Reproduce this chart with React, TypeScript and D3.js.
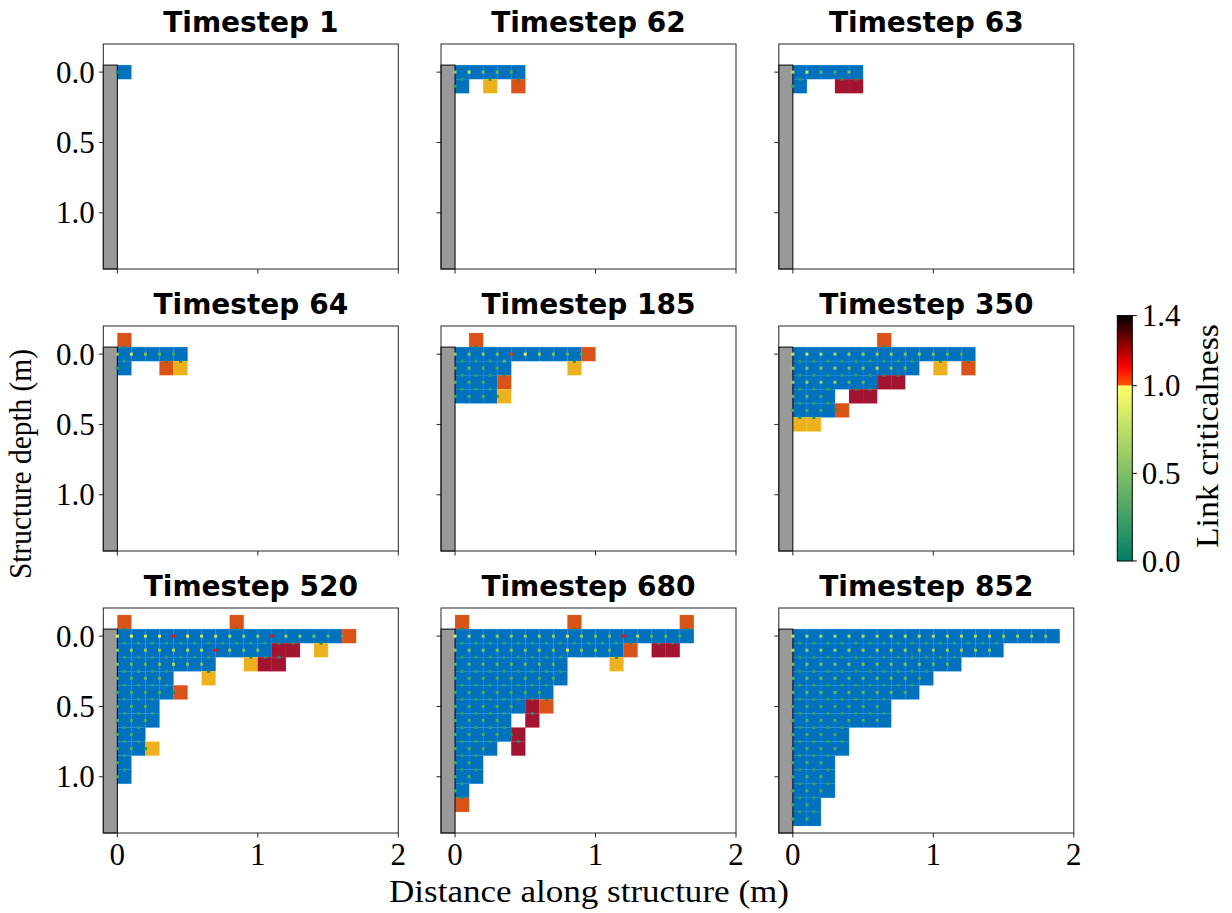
import React from 'react';
import * as d3 from 'd3';

// ---------------- data ----------------
const timesteps = [1, 62, 63, 64, 185, 350, 520, 680, 852];

// cell rows start at row j = -1 (index 0). b = intact (blue), y/o/r = criticalness classes
// h rows: link dot at left edge of cell (x = 0.1 i, y = 0.1 j); v rows: link dot at top edge
const cells1 = ['', 'b'];
const h1 = ['', '1'];
const v1 = ['', ''];

const cells62 = ['', 'bbbbb', 'b.y.o'];
const h62 = ['', '68543', '2'];
const v62 = ['', '', '2.1.1'];

const cells63 = ['', 'bbbbb', 'b..rr'];
const h63 = ['', '78435', '2'];
const v63 = ['', '', '2..11'];

const cells64 = ['o', 'bbbbb', 'b..oy'];
const h64 = ['', '68543', '2'];
const v64 = ['', '1', '2..11'];

const cells185 = ['.o', 'bbbbbbbbbo', 'bbbb....y', 'bbbo', 'bbby'];
const h185 = ['', '6565A96543', '4433', '433', '3331'];
const v185 = ['', '.1', '2224....1', '2221', '222'];

const cells350 = ['......o', 'bbbbbbbbbbbbb', 'bbbbbbbbb.y.o', 'bbbbbbrr', 'bbb.rr', 'bbbo', 'yy'];
const h350 = ['', '8877666656543', '655655754', '666644', '443', '3331', ''];
const v350 = ['', '......1', '222222222.1.1', '22222211', '222.11', '222', '11'];

const cells520 = ['o.......o', 'bbbbbbbbbbbbbbbbo', 'bbbbbbbbbbbrr.y', 'bbbbbbb..yrr', 'bbbb..y', 'bbbbo', 'bbb', 'bbb', 'bb', 'bby', 'b', 'b'];
const h520 = ['', '9989B988766B66543', '6666777B655', '5445755', '4344', '33331', '333', '333', '33', '331', '3', '3'];
const v520 = ['', '1.......1', '2222222222211.1', '2222222..111', '2222..1', '2222', '222', '222', '22', '22', '2', '2'];

const cells680 = ['o.......o.......o', 'bbbbbbbbbbbbbbbbb', 'bbbbbbbbbbbbo.rr', 'bbbbbbbb...y', 'bbbbbbbb', 'bbbbbbb', 'bbbbbro', 'bbbb.r', 'bbbbr', 'bbb.r', 'bb', 'bb', 'b', 'o'];
const h680 = ['', '976666668655B7443', '655555559554', '44444444', '33333333', '3333333', '33333', '3333', '33331', '333', '33', '33', '3', ''];
const v680 = ['', '1.......1.......1', '2222222222221.11', '22222222...1', '22222222', '2222222', '2222211', '2222.1', '2222', '222.1', '22', '22', '2', '1'];

const cells852 = ['', 'bbbbbbbbbbbbbbbbbbb', 'bbbbbbbbbbbbbbb', 'bbbbbbbbbbbb', 'bbbbbbbbbb', 'bbbbbbbbb', 'bbbbbbb', 'bbbbbbb', 'bbbb', 'bbbb', 'bbb', 'bbb', 'bbb', 'bb', 'bb'];
const h852 = ['', '8777777777777776665', '766666666666665', '555555555544', '4444444443', '444444443', '3333333', '3333333', '3333', '3333', '333', '333', '333', '33', '33'];
const v852 = ['', '', '222222222222222', '222222222222', '2222222222', '222222222', '2222222', '2222222', '2222', '2222', '222', '222', '222', '22', '22'];

const xTicks = [0, 1, 2];
const yTicks = [0, 0.5, 1.0];
const cbTicks = [0, 0.5, 1.0, 1.4];

const panels = [
  { ts: timesteps[0], cells: cells1, h: h1, v: v1 },
  { ts: timesteps[1], cells: cells62, h: h62, v: v62 },
  { ts: timesteps[2], cells: cells63, h: h63, v: v63 },
  { ts: timesteps[3], cells: cells64, h: h64, v: v64 },
  { ts: timesteps[4], cells: cells185, h: h185, v: v185 },
  { ts: timesteps[5], cells: cells350, h: h350, v: v350 },
  { ts: timesteps[6], cells: cells520, h: h520, v: v520 },
  { ts: timesteps[7], cells: cells680, h: h680, v: v680 },
  { ts: timesteps[8], cells: cells852, h: h852, v: v852 },
];

// ---------------- styles ----------------
const cellColors: Record<string, string> = { b: '#0072BD', y: '#EDB120', o: '#D95319', r: '#A2142F' };
const special: Record<string, number> = { A: 1.05, B: 1.1, C: 1.15 };
const linkVal = (ch: string) => (ch in special ? special[ch] : +ch / 10);

function cmap(v: number): string {
  if (v <= 1) {
    const t = Math.max(0, v);
    return d3.rgb(255 * t, 255 * (0.5 + t / 2), 102).formatHex();
  }
  const t = Math.max(0, ((1.4 - v) / 0.4) * 0.5);
  const r = Math.min(1, t / 0.365);
  const g = Math.min(1, Math.max(0, (t - 0.365) / 0.381));
  return d3.rgb(255 * r, 255 * g, 0).formatHex();
}

const W = 1232, H = 913;
const colLeft = [103.3, 441.0, 778.8];
const rowTop = [44, 326, 608];
const PW = 295, PH = 225;
const CELL = 0.1;
const SERIF = "'Liberation Serif', 'Times New Roman', serif";
const TICK = 4.5;
const DOT = 3;

function Panel({ p, idx }: { p: any; idx: number }) {
  const col = idx % 3, row = Math.floor(idx / 3);
  const L = colLeft[col], T = rowTop[row];
  const x = d3.scaleLinear().domain([-0.1, 2]).range([L, L + PW]);
  const y = d3.scaleLinear().domain([-0.2, 1.4]).range([T, T + PH]);
  const rects: any[] = [];
  const dots: any[] = [];
  p.cells.forEach((s: string, k: number) => {
    const j = k - 1;
    [...s].forEach((c, i) => { if (c !== '.') rects.push({ i, j, c }); });
  });
  p.h.forEach((s: string, k: number) => {
    const j = k - 1;
    [...s].forEach((c, i) => { if (c !== '.') dots.push({ x: CELL * i, y: CELL * j, v: linkVal(c) }); });
  });
  p.v.forEach((s: string, k: number) => {
    const j = k - 1;
    [...s].forEach((c, i) => { if (c !== '.') dots.push({ x: CELL * i + CELL / 2, y: CELL * j - CELL / 2, v: linkVal(c) }); });
  });
  const fmtY = d3.format('.1f');
  return (
    <g>
      <text x={L + PW / 2} y={T - 12.5} textAnchor="middle" fontFamily="'DejaVu Sans', sans-serif" fontWeight="bold" fontSize={28} fill="#000">
        {`Timestep ${p.ts}`}
      </text>
      {rects.map((r, n) => {
        const fill = cellColors[r.c];
        return (
          <rect key={'c' + n} x={x(CELL * r.i)} y={y(CELL * r.j - CELL / 2)}
            width={x(CELL) - x(0)} height={y(CELL) - y(0)}
            fill={fill} stroke={d3.color(fill)!.brighter(0.8).formatHex()} strokeOpacity={0.35} strokeWidth={0.6} />
        );
      })}
      <rect x={x(-0.1)} y={y(-0.05)} width={x(0) - x(-0.1)} height={y(1.4) - y(-0.05)} fill="#999999" stroke="#000" strokeWidth={1} />
      {dots.map((d, n) => (
        <rect key={'d' + n} x={x(d.x) - DOT / 2} y={y(d.y) - DOT / 2} width={DOT} height={DOT} fill={cmap(d.v)} />
      ))}
      <rect x={L} y={T} width={PW} height={PH} fill="none" stroke="#262626" strokeWidth={1} />
      {xTicks.map((t) => (
        <g key={'xt' + t}>
          <line x1={x(t)} x2={x(t)} y1={T + PH} y2={T + PH + TICK} stroke="#262626" strokeWidth={1} />
          {row === 2 && (
            <text x={x(t)} y={T + PH + 32} textAnchor="middle" fontFamily={SERIF} fontSize={31} fill="#000">{String(t)}</text>
          )}
        </g>
      ))}
      {yTicks.map((t) => (
        <g key={'yt' + t}>
          <line x1={L - TICK} x2={L} y1={y(t)} y2={y(t)} stroke="#262626" strokeWidth={1} />
          {col === 0 && (
            <text x={L - TICK - 4} y={y(t)} dy="0.34em" textAnchor="end" fontFamily={SERIF} fontSize={31} fill="#000">{fmtY(t)}</text>
          )}
        </g>
      ))}
    </g>
  );
}

function Colorbar() {
  const x0 = 1117.3, w = 15;
  const cy = d3.scaleLinear().domain([0, 1.4]).range([561, 315.6]);
  const stops = d3.range(0, 141).map((k) => {
    const v = k / 100;
    return { off: (1.4 - v) / 1.4, c: cmap(v) };
  });
  return (
    <g>
      <defs>
        <linearGradient id="cbgrad" x1="0" y1="0" x2="0" y2="1">
          {stops.map((s, k) => (
            <stop key={k} offset={s.off} stopColor={s.c} />
          ))}
          {/* sharp transition at 1.0 */}
        </linearGradient>
      </defs>
      <rect x={x0} y={cy(1.4)} width={w} height={cy(1.0) - cy(1.4)} fill="url(#cbgradTop)" />
      <defs>
        <linearGradient id="cbgradTop" x1="0" y1="0" x2="0" y2="1">
          {d3.range(0, 41).map((k) => {
            const v = 1.4 - k / 100;
            return <stop key={k} offset={k / 40} stopColor={cmap(Math.max(v, 1.0001))} />;
          })}
        </linearGradient>
        <linearGradient id="cbgradBot" x1="0" y1="0" x2="0" y2="1">
          {d3.range(0, 101).map((k) => {
            const v = 1 - k / 100;
            return <stop key={k} offset={k / 100} stopColor={cmap(v)} />;
          })}
        </linearGradient>
      </defs>
      <rect x={x0} y={cy(1.0)} width={w} height={cy(0) - cy(1.0)} fill="url(#cbgradBot)" />
      <rect x={x0} y={cy(1.4)} width={w} height={cy(0) - cy(1.4)} fill="none" stroke="#000" strokeWidth={1} />
      {cbTicks.map((t) => (
        <g key={t}>
          <line x1={x0 + w} x2={x0 + w + TICK} y1={cy(t)} y2={cy(t)} stroke="#000" strokeWidth={1} />
          <text x={x0 + w + TICK + 5} y={cy(t)} dy="0.34em" fontFamily={SERIF} fontSize={31} fill="#000">{d3.format('.1f')(t)}</text>
        </g>
      ))}
      <text transform={`translate(1218,436) rotate(-90)`} textAnchor="middle" fontFamily={SERIF} fontSize={31}
        textLength={224} lengthAdjust="spacingAndGlyphs" fill="#000">Link criticalness</text>
    </g>
  );
}

export default function App() {
  return (
    <svg width={W} height={H} viewBox={`0 0 ${W} ${H}`} style={{ position: 'absolute', left: 0, top: 0, background: '#fff' }}>
      <rect x={0} y={0} width={W} height={H} fill="#fff" />
      {panels.map((p, i) => <Panel key={p.ts} p={p} idx={i} />)}
      <Colorbar />
      <text x={589} y={902} textAnchor="middle" fontFamily={SERIF} fontSize={31} textLength={400} lengthAdjust="spacingAndGlyphs" fill="#000">
        Distance along structure (m)
      </text>
      <text transform={`translate(31,464) rotate(-90)`} textAnchor="middle" fontFamily={SERIF} fontSize={31} textLength={230} lengthAdjust="spacingAndGlyphs" fill="#000">
        Structure depth (m)
      </text>
    </svg>
  );
}
